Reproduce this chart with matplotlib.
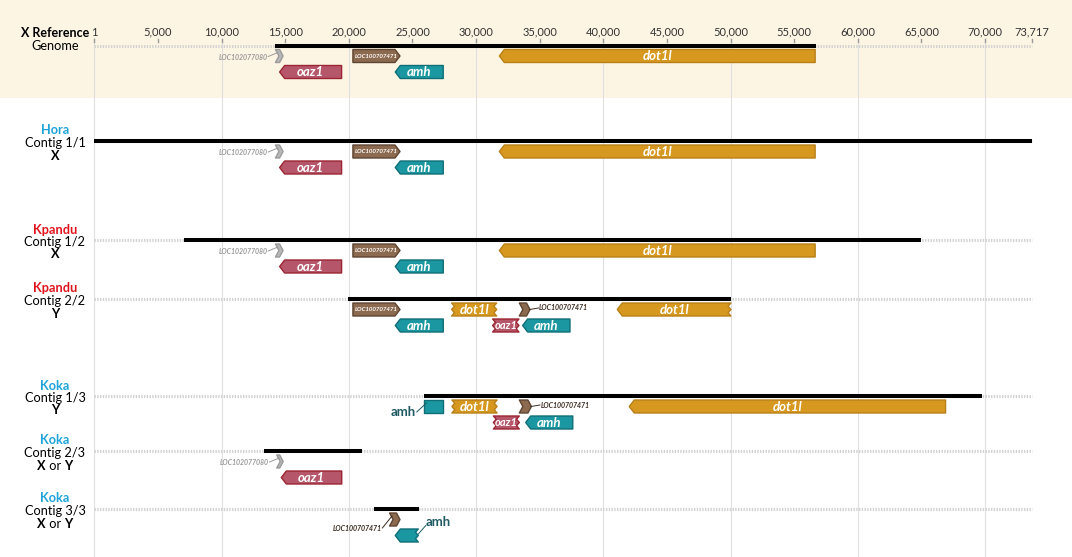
import matplotlib
matplotlib.use("Agg")
import matplotlib.pyplot as plt
from matplotlib.patches import Polygon
import numpy as np

plt.rcParams['font.family'] = ['Lato', 'DejaVu Sans']

# --- datos -------------------------------------------------------------
genome_len = 73717
tick_pos = [1, 5000, 10000, 15000, 20000, 25000, 30000, 35000, 40000,
            45000, 50000, 55000, 60000, 65000, 70000, 73717]
tick_lab = ["1", "5,000", "10,000", "15,000", "20,000", "25,000", "30,000",
            "35,000", "40,000", "45,000", "50,000", "55,000", "60,000",
            "65,000", "70,000", "73,717"]
grid_pos = [1, 10000, 20000, 30000, 40000, 50000, 60000, 70000]

contig_name = ["X Reference", "Hora", "Kpandu", "Kpandu", "Koka", "Koka", "Koka"]
contig_sub = ["Genome", "Contig 1/1", "Contig 1/2", "Contig 2/2",
              "Contig 1/3", "Contig 2/3", "Contig 3/3"]
contig_chrom = ["", "X", "X", "Y", "Y", "X or Y", "X or Y"]
contig_start = [14230, 1, 7040, 19930, 25900, 13330, 22000]
contig_end = [56700, 73717, 64970, 50030, 69800, 21000, 25510]

# genes: fila (contig), nombre, inicio, fin, hebra, carril, corte, forma, etiqueta
gene_row = [0, 0, 0, 0, 0,
            1, 1, 1, 1, 1,
            2, 2, 2, 2, 2,
            3, 3, 3, 3, 3, 3, 3,
            4, 4, 4, 4, 4, 4,
            5, 5,
            6, 6]
gene_name = ["LOC102077080", "LOC100707471", "oaz1", "amh", "dot1l",
             "LOC102077080", "LOC100707471", "oaz1", "amh", "dot1l",
             "LOC102077080", "LOC100707471", "oaz1", "amh", "dot1l",
             "LOC100707471", "amh", "dot1l", "oaz1", "LOC100707471", "amh", "dot1l",
             "amh", "dot1l", "LOC100707471", "oaz1", "amh", "dot1l",
             "LOC102077080", "oaz1",
             "LOC100707471", "amh"]
gene_start = [14230, 20320, 14560, 23650, 31830,
              14230, 20320, 14560, 23650, 31830,
              14230, 20320, 14560, 23650, 31830,
              20320, 23650, 28080, 31300, 33400, 33660, 41100,
              25900, 28100, 33400, 31360, 33900, 42040,
              14330, 14690,
              23200, 23650]
gene_end = [14830, 24020, 19430, 27420, 56650,
            14830, 24020, 19430, 27420, 56650,
            14830, 24020, 19430, 27420, 56650,
            24020, 27420, 31620, 33370, 34240, 37380, 50030,
            27400, 31650, 34350, 33400, 37600, 66900,
            14840, 19440,
            24020, 25460]
gene_strand = [1, 1, -1, -1, -1,
               1, 1, -1, -1, -1,
               1, 1, -1, -1, -1,
               1, -1, -1, -1, 1, -1, -1,
               0, -1, 1, -1, -1, -1,
               1, -1,
               1, -1]
gene_lane = [1, 1, 2, 2, 1,
             1, 1, 2, 2, 1,
             1, 1, 2, 2, 1,
             1, 2, 1, 2, 1, 2, 1,
             1, 1, 1, 2, 2, 1,
             1, 2,
             1, 2]
gene_cut = ["", "", "", "", "",
            "", "", "", "", "",
            "", "", "", "", "",
            "", "", "LR", "LR", "", "", "R",
            "", "LR", "", "LR", "", "",
            "", "",
            "", "R"]
gene_shape = ["chev", "box", "box", "box", "box",
              "chev", "box", "box", "box", "box",
              "chev", "box", "box", "box", "box",
              "box", "box", "box", "box", "chev", "box", "box",
              "box", "box", "chev", "box", "box", "box",
              "chev", "box",
              "chev", "box"]
gene_tag = ["left", "in", "in", "in", "in",
            "left", "in", "in", "in", "in",
            "left", "in", "in", "in", "in",
            "in", "in", "in", "in", "right", "in", "in",
            "left", "in", "right", "in", "in", "in",
            "left", "in",
            "left", "upright"]

# --- estilo ------------------------------------------------------------
fill = {"dot1l": "#d6981f", "oaz1": "#b5566a", "amh": "#1b97a1",
        "LOC100707471": "#8c6a50", "LOC102077080": "#b9b9b9"}
edge = {"dot1l": "#b98018", "oaz1": "#9b2532", "amh": "#106e77",
        "LOC100707471": "#5e4532", "LOC102077080": "#9a9a9a"}
outer_col = {"amh": "#1f5a63", "LOC100707471": "#3b2b20", "LOC102077080": "#9a9a9a"}
title_col = {"X Reference": "black", "Hora": "#1ea3d8",
             "Kpandu": "#e0131c", "Koka": "#1ea3d8"}

row_y = [45.5, 141, 240, 299, 396, 451, 509]
lane_off = {1: 10.5, 2: 26.5}
H = 13
LAB_FS = 9.2

PX_PER_BP = 0.012723
X_ORIGIN_PX = 94.4
BP = 1 / PX_PER_BP

fig = plt.figure(figsize=(10.72, 5.57), dpi=100)
ax = fig.add_axes([0, 0, 1, 1])
ax.set_xlim(1 - X_ORIGIN_PX * BP, 1 + (1072 - X_ORIGIN_PX) * BP)
ax.set_ylim(557, 0)
ax.axis('off')

ax.axhspan(0, 98, color='#fdf5e3', zorder=0, lw=0)

for g in grid_pos:
    ax.plot([g, g], [38, 557], color='#e0e0e0', lw=0.8, zorder=1)

for p, lab in zip(tick_pos, tick_lab):
    ax.plot([p, p], [38.5, 41.5], color='#9a9a9a', lw=1, zorder=2)
    ax.text(p, 32, lab, ha='center', va='center', fontsize=8, color='#333333')


def jag(x, y_from, y_to, inward):
    ys = np.linspace(y_from, y_to, 5)
    return [(x + (inward * 2.8 * BP if i % 2 else 0), yy) for i, yy in enumerate(ys)]


def gene_points(x0, x1, yc, strand, cut, shape):
    top, bot = yc - H / 2, yc + H / 2
    if shape == "chev":
        t = 3.5 * BP
        if strand > 0:
            return [(x0, top), (x1 - t, top), (x1, yc), (x1 - t, bot), (x0, bot), (x0 + t, yc)]
        return [(x1, top), (x0 + t, top), (x0, yc), (x0 + t, bot), (x1, bot), (x1 - t, yc)]
    tip = 5 * BP
    if "L" in cut:
        left = jag(x0, bot, top, 1)
    elif strand < 0:
        left = [(x0 + tip, bot), (x0, yc), (x0 + tip, top)]
    else:
        left = [(x0, bot), (x0, top)]
    if "R" in cut:
        right = jag(x1, top, bot, -1)
    elif strand > 0:
        right = [(x1 - tip, top), (x1, yc), (x1 - tip, bot)]
    else:
        right = [(x1, top), (x1, bot)]
    return left + right


for i, y in enumerate(row_y):
    ax.plot([1, genome_len], [y, y], color='#d2d2d2', lw=2.2,
            dashes=(0.45, 0.45), solid_capstyle='butt', zorder=2)
    ax.plot([contig_start[i], contig_end[i]], [y, y], color='black', lw=2.9,
            solid_capstyle='butt', zorder=3)

for k in range(len(gene_name)):
    name = gene_name[k]
    x0, x1 = gene_start[k], gene_end[k]
    yc = row_y[gene_row[k]] + lane_off[gene_lane[k]]
    pts = gene_points(x0, x1, yc, gene_strand[k], gene_cut[k], gene_shape[k])
    ax.add_patch(Polygon(pts, closed=True, fc=fill[name], ec=edge[name], lw=1.0,
                         joinstyle='round', zorder=4))
    tag = gene_tag[k]
    small = name.startswith("LOC")
    if tag == "in":
        fs = 4.4 if small else (8 if (x1 - x0) * PX_PER_BP < 30 else 9.5)
        ax.text((x0 + x1) / 2, yc + 0.3, name, ha='center', va='center',
                color='white', fontsize=fs,
                fontweight='bold', fontstyle='italic', zorder=5)
        continue
    col = outer_col[name]
    fs = 5 if small else 9.5
    sty = 'italic' if small else 'normal'
    if tag == "left":
        dy = 9 if (small and name == "LOC100707471") else (6 if not small else 1)
        lx = x0 - 8 * BP
        ax.plot([lx + 0.8 * BP, x0 + 2.5 * BP], [yc + dy - 0.5, yc - 3.5],
                color=col, lw=0.7, zorder=5)
        ax.text(lx, yc + dy, name, ha='right', va='center', color=col,
                fontsize=fs, fontweight='bold', fontstyle=sty, zorder=5)
    elif tag == "right":
        lx = x1 + 9 * BP
        ax.plot([x1 - 0.5 * BP, lx - 0.5 * BP], [yc, yc - 1.5], color=col, lw=0.7, zorder=5)
        ax.text(lx, yc - 1.5, name, ha='left', va='center', color=col,
                fontsize=fs, fontweight='bold', fontstyle=sty, zorder=5)
    else:
        lx = x1 + 7 * BP
        ax.plot([x1, lx + 0.5 * BP], [yc - 1.5, yc - 10], color=col, lw=0.7, zorder=5)
        ax.text(lx, yc - 13, name, ha='left', va='center', color=col,
                fontsize=fs, fontweight='bold', zorder=5)

# etiquetas de la izquierda
lab_x = 1 + (55 - X_ORIGIN_PX) * BP
renderer = fig.canvas.get_renderer()
inv = ax.transData.inverted()
for i, y in enumerate(row_y):
    if i == 0:
        ax.text(lab_x, 33, contig_name[i], ha='center', va='center',
                fontsize=9, fontweight='bold', color='black')
        ax.text(lab_x, 46, contig_sub[i], ha='center', va='center', fontsize=LAB_FS)
        continue
    ax.text(lab_x, y - 10.5, contig_name[i], ha='center', va='center', fontsize=LAB_FS,
            fontweight='bold', color=title_col[contig_name[i]])
    ax.text(lab_x, y + 2, contig_sub[i], ha='center', va='center', fontsize=LAB_FS)
    chrom = contig_chrom[i]
    if " or " in chrom:
        a, b = chrom.split(" or ")
        mid = ax.text(lab_x, y + 14.5, " or ", ha='center', va='center', fontsize=LAB_FS)
        bb = mid.get_window_extent(renderer)
        xl = inv.transform((bb.x0, 0))[0]
        xr = inv.transform((bb.x1, 0))[0]
        ax.text(xl, y + 14.5, a, ha='right', va='center', fontsize=LAB_FS, fontweight='bold')
        ax.text(xr, y + 14.5, b, ha='left', va='center', fontsize=LAB_FS, fontweight='bold')
    else:
        ax.text(lab_x, y + 14.5, chrom, ha='center', va='center', fontsize=LAB_FS,
                fontweight='bold')

fig.savefig('out.png', dpi=100)
